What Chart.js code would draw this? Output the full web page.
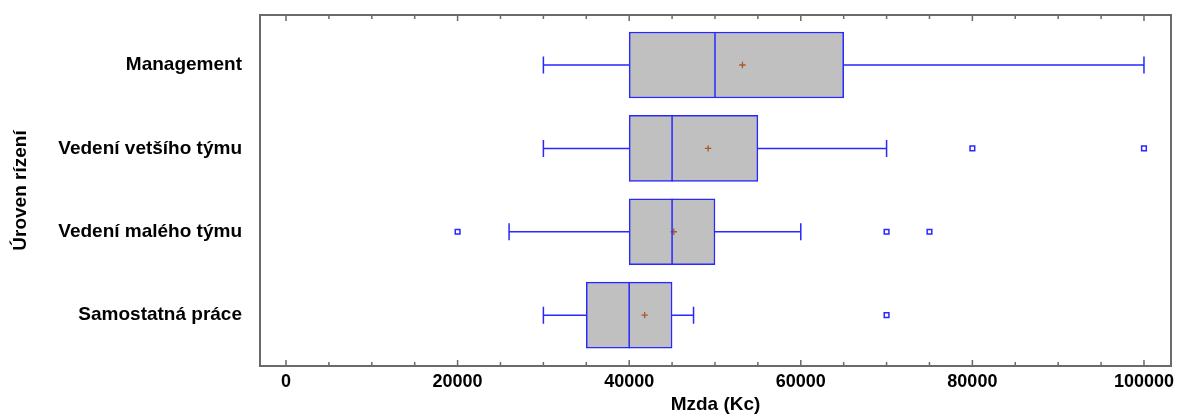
<!DOCTYPE html>
<html>
<head>
<meta charset="utf-8">
<script src="https://cdn.jsdelivr.net/npm/chart.js@4/dist/chart.umd.min.js"></script>
<style>
html,body{margin:0;padding:0;background:#fff;}
#wrap{width:1177px;height:416px;position:relative;}
</style>
</head>
<body>
<div id="wrap"><canvas id="c" width="1177" height="416"></canvas></div>
<script>
// ---- data ----
const categories = ['Management', 'Vedení vetšího týmu', 'Vedení malého týmu', 'Samostatná práce'];
const catPos = [4, 3, 2, 1];
const whiskerLow = [30000, 30000, 26000, 30000];
const q1 = [40000, 40000, 40000, 35000];
const median = [50000, 45000, 45000, 40000];
const q3 = [65000, 55000, 50000, 45000];
const whiskerHigh = [100000, 70000, 60000, 47500];
const means = [53200, 49200, 45200, 41800];
const outliers = [[], [80000, 100000], [20000, 70000, 75000], [70000]];
const xTickLabels = [0, 20000, 40000, 60000, 80000, 100000];
const xMinorStep = 5000;

const BLUE = '#2828ff';
const FRAME = '#6a6a6a';
const SANS = '"Liberation Sans", Arial, sans-serif';

const boxData = categories.map((c, i) => ({x: [q1[i], q3[i]], y: catPos[i]}));
const meanData = categories.map((c, i) => ({x: means[i], y: catPos[i]}));
const outData = [];
outliers.forEach((arr, i) => arr.forEach(v => outData.push({x: v, y: catPos[i]})));

const boxPlugin = {
  id: 'boxExtras',
  beforeDatasetsDraw(chart) {
    const ctx = chart.ctx, xs = chart.scales.x, ys = chart.scales.y;
    ctx.save();
    ctx.strokeStyle = BLUE;
    ctx.lineWidth = 1.5;
    const cap = 8.5;
    categories.forEach((c, i) => {
      const y = ys.getPixelForValue(catPos[i]);
      const xl = xs.getPixelForValue(whiskerLow[i]);
      const x1 = xs.getPixelForValue(q1[i]);
      const x3 = xs.getPixelForValue(q3[i]);
      const xh = xs.getPixelForValue(whiskerHigh[i]);
      ctx.beginPath();
      ctx.moveTo(xl, y); ctx.lineTo(x1, y);
      ctx.moveTo(x3, y); ctx.lineTo(xh, y);
      ctx.moveTo(xl, y - cap); ctx.lineTo(xl, y + cap);
      ctx.moveTo(xh, y - cap); ctx.lineTo(xh, y + cap);
      ctx.stroke();
    });
    ctx.restore();
  },
  afterDatasetsDraw(chart) {
    const ctx = chart.ctx, xs = chart.scales.x, ys = chart.scales.y;
    const meta = chart.getDatasetMeta(0);
    ctx.save();
    ctx.strokeStyle = BLUE;
    ctx.lineWidth = 1.5;
    categories.forEach((c, i) => {
      const bar = meta.data[i];
      const half = bar.height / 2;
      const y = ys.getPixelForValue(catPos[i]);
      const xm = xs.getPixelForValue(median[i]);
      ctx.beginPath();
      ctx.moveTo(xm, y - half); ctx.lineTo(xm, y + half);
      ctx.stroke();
    });
    ctx.restore();
  },
  afterDraw(chart) {
    const ctx = chart.ctx, xs = chart.scales.x, a = chart.chartArea;
    ctx.save();
    ctx.strokeStyle = FRAME;
    ctx.lineWidth = 2;
    ctx.strokeRect(a.left, a.top, a.right - a.left, a.bottom - a.top);
    ctx.lineWidth = 1.5;
    ctx.beginPath();
    xs.ticks.forEach(t => {
      const x = xs.getPixelForValue(t.value);
      const len = xTickLabels.includes(t.value) ? 6 : 4;
      ctx.moveTo(x, a.top); ctx.lineTo(x, a.top + len);
      ctx.moveTo(x, a.bottom); ctx.lineTo(x, a.bottom - len);
    });
    ctx.stroke();
    ctx.restore();
  }
};

new Chart(document.getElementById('c'), {
  type: 'bar',
  data: {
    datasets: [
      {
        type: 'bar',
        data: boxData,
        backgroundColor: '#c0c0c0',
        borderColor: BLUE,
        borderWidth: 1.5,
        borderSkipped: false,
        barThickness: 66,
        order: 3
      },
      {
        type: 'scatter',
        data: meanData,
        pointStyle: 'cross',
        radius: 3.2,
        borderColor: '#a85a2a',
        borderWidth: 1.3,
        order: 1
      },
      {
        type: 'scatter',
        data: outData,
        pointStyle: 'rect',
        radius: 3.3,
        backgroundColor: '#ffffff',
        borderColor: BLUE,
        borderWidth: 1.5,
        order: 2
      }
    ]
  },
  options: {
    indexAxis: 'y',
    responsive: false,
    animation: false,
    layout: {padding: {left: 0, right: 6, top: 15, bottom: 0}},
    plugins: {legend: {display: false}, tooltip: {enabled: false}},
    scales: {
      x: {
        type: 'linear',
        position: 'bottom',
        offset: false,
        min: -3030,
        max: 103150,
        grid: {display: false, drawTicks: false},
        border: {display: false},
        afterBuildTicks: s => {
          const t = [];
          for (let v = xTickLabels[0]; v <= xTickLabels[xTickLabels.length - 1]; v += xMinorStep) t.push({value: v});
          s.ticks = t;
        },
        afterFit: s => { s.height = 50; s.paddingLeft = 0; s.paddingRight = 0; },
        ticks: {
          autoSkip: false,
          maxRotation: 0,
          padding: 5,
          color: '#000',
          font: {family: SANS, size: 18, weight: 'bold'},
          callback: v => xTickLabels.includes(v) ? String(v) : ''
        },
        title: {
          display: true,
          text: 'Mzda (Kc)',
          color: '#000',
          padding: {top: -2, bottom: 0},
          font: {family: SANS, size: 19, weight: 'bold'}
        }
      },
      y: {
        type: 'linear',
        position: 'left',
        offset: false,
        min: 0.39,
        max: 4.6,
        grid: {display: false, drawTicks: false, offset: false},
        border: {display: false},
        afterBuildTicks: s => { s.ticks = catPos.map(v => ({value: v})); },
        afterFit: s => { s.width = 260; s.paddingTop = 0; s.paddingBottom = 0; },
        ticks: {
          autoSkip: false,
          padding: 18,
          color: '#000',
          font: {family: SANS, size: 19, weight: 'bold'},
          callback: v => { const i = catPos.indexOf(v); return i >= 0 ? categories[i] : ''; }
        },
        title: {
          display: true,
          text: 'Úroven rízení',
          color: '#000',
          padding: {top: 9, bottom: 0},
          font: {family: SANS, size: 19, weight: 'bold'}
        }
      }
    }
  },
  plugins: [boxPlugin]
});
</script>
</body>
</html>
